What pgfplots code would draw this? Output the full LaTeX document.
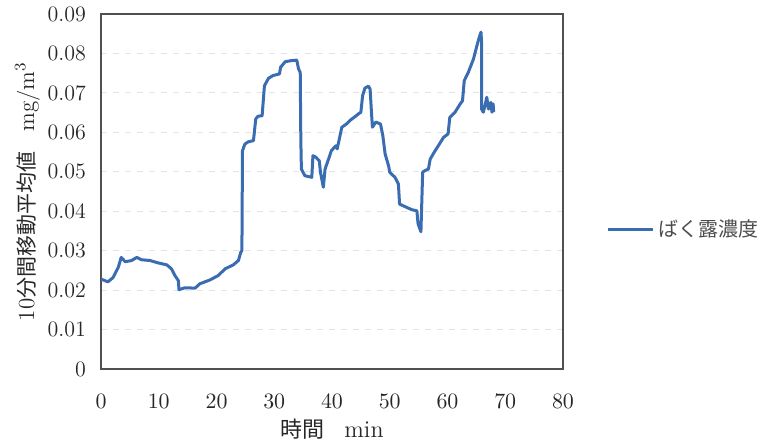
\documentclass[border=0pt]{standalone}
\usepackage{fontspec}
\usepackage{pgfplots}
\pgfplotsset{compat=1.18}
\newfontfamily\cjk{Noto Sans CJK JP}
\definecolor{serieblue}{RGB}{58,108,178}
\definecolor{gridgrey}{RGB}{228,228,228}
\definecolor{boxgrey}{RGB}{80,80,80}
\begin{document}
\begin{tikzpicture}
\useasboundingbox (-50.5pt,-35.5pt) rectangle (328.5pt,184.5pt);
\begin{axis}[
  at={(0pt,0pt)}, anchor=south west,
  width=231pt, height=177.5pt, scale only axis,
  xmin=0, xmax=80, ymin=0, ymax=0.09,
  xtick={0,10,...,80},
  ytick={0,0.01,0.02,0.03,0.04,0.05,0.06,0.07,0.08,0.09},
  yticklabels={0,0.01,0.02,0.03,0.04,0.05,0.06,0.07,0.08,0.09},
  scaled y ticks=false,
  major tick length=0pt,
  tick label style={font=\fontsize{11}{13}\selectfont, text=black!85},
  xticklabel style={yshift=-9pt},
  yticklabel style={xshift=-4pt},
  axis line style={boxgrey, line width=0.6pt},
  ymajorgrids, xmajorgrids=false,
  grid style={gridgrey, dashed, line width=0.4pt},
  xlabel={{\cjk\fontsize{11}{13}\selectfont 時間}\quad{\fontsize{12}{14}\selectfont min}},
  ylabel={{\fontsize{11.5}{13}\selectfont 10}{\cjk\fontsize{10.5}{13}\selectfont 分間移動平均値}\quad{\fontsize{11.5}{13}\selectfont mg/m$^3$}},
  xlabel style={yshift=1.5pt, text=black!85},
  ylabel style={yshift=-3pt, text=black!85},
  legend style={draw=none, fill=none, at={(1.094,0.394)}, anchor=west, inner sep=0pt, font=\cjk\fontsize{10}{12}\selectfont, text=black!70},
  legend image code/.code={\draw[#1] (0pt,0pt) -- (22.5pt,0pt);},
  legend cell align=left,
]
\addplot[serieblue, line width=1.5pt, line join=round] coordinates {
(0,0.0228) (1.2,0.0221) (2.1,0.0232) (3.0,0.0258) (3.5,0.0283) (4.2,0.0272)
(5.3,0.0275) (6.2,0.0283) (7.0,0.0277) (8.5,0.0275) (9.9,0.0269) (11.4,0.0264)
(12.2,0.0254) (12.8,0.0237) (13.4,0.0224) (13.5,0.0201) (14.5,0.0206) (16.3,0.0205)
(17.1,0.0216) (18.9,0.0226) (20.3,0.0237) (21.5,0.0254) (22.9,0.0264) (23.8,0.0275)
(24.2,0.0296) (24.4,0.0300) (24.5,0.0553) (24.9,0.0570) (25.5,0.0576) (26.4,0.0579)
(26.8,0.0634) (27.2,0.0641) (27.9,0.0642) (28.3,0.0718) (29.0,0.0737) (29.8,0.0744)
(30.9,0.0748) (31.1,0.0765) (31.9,0.0779) (33.0,0.0782) (33.9,0.0783) (34.2,0.0761)
(34.5,0.0752) (34.6,0.0583) (34.7,0.0507) (35.3,0.0490) (36.5,0.0486) (36.7,0.0541)
(37.2,0.0537) (37.8,0.0528) (38.0,0.0499) (38.5,0.0461) (38.8,0.0507) (39.4,0.0532)
(39.9,0.0554) (40.7,0.0566) (40.9,0.0558) (41.7,0.0613) (42.5,0.0621) (43.1,0.0630)
(44.0,0.0640) (44.6,0.0647) (45.0,0.0651) (45.3,0.0693) (45.7,0.0712) (46.3,0.0717)
(46.6,0.0710) (46.8,0.0659) (47.0,0.0613) (47.6,0.0626) (48.4,0.0621) (48.8,0.0592)
(49.2,0.0545) (49.8,0.0515) (50.0,0.0499) (50.9,0.0486) (51.5,0.0469) (51.7,0.0418)
(52.6,0.0412) (53.8,0.0404) (54.7,0.0401) (54.9,0.0368) (55.4,0.0348) (55.7,0.0499)
(56.1,0.0503) (56.7,0.0507) (57.0,0.0532) (57.8,0.0552) (58.5,0.0568) (59.3,0.0587)
(60.1,0.0596) (60.4,0.0638) (61.3,0.0651) (62.2,0.0672) (62.6,0.0680) (62.9,0.0731)
(63.6,0.0752) (64.5,0.0786) (65.1,0.0820) (65.5,0.0841) (65.8,0.0854) (65.9,0.0828)
(65.9,0.0659) (66.2,0.0651) (66.5,0.0668) (66.8,0.0689) (67.1,0.0659) (67.5,0.0676)
(67.7,0.0651) (67.9,0.0672) (68.0,0.0651)
};
\addlegendentry{ばく露濃度}
\end{axis}
\end{tikzpicture}
\end{document}
